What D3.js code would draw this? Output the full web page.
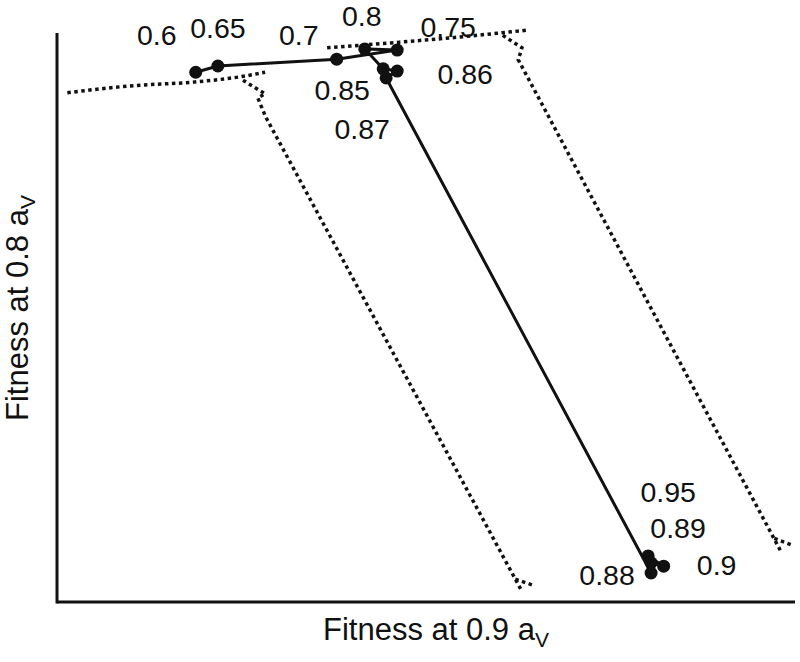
<!DOCTYPE html>
<html>
<head>
<meta charset="utf-8">
<script src="https://cdn.jsdelivr.net/npm/d3@7"></script>
<style>
  body { margin: 0; background: #fff; }
  text { font-family: "Liberation Sans", Arial, sans-serif; fill: #111; }
</style>
</head>
<body>
<div id="chart"></div>
<script>
// parameter labels along the trajectory (plot order)
const params = ["0.6", "0.65", "0.7", "0.75", "0.8", "0.85", "0.86", "0.87", "0.88", "0.89", "0.9", "0.95"];
// fitness at 0.9 aV (x) and at 0.8 aV (y), relative units
const fitX = [0.188, 0.218, 0.379, 0.461, 0.417, 0.442, 0.461, 0.446, 0.805, 0.805, 0.822, 0.801];
const fitY = [0.931, 0.942, 0.954, 0.970, 0.972, 0.937, 0.933, 0.921, 0.051, 0.069, 0.063, 0.081];

// dotted contour lines (x, y pairs in the same units)
const contourA = [[0.014, 0.895], [0.099, 0.907], [0.187, 0.914], [0.248, 0.923], [0.282, 0.931]];
const contourABranch = [[0.252, 0.917], [0.282, 0.893], [0.272, 0.886], [0.283, 0.852], [0.629, 0.021]];
const contourAStub = [[0.621, 0.040], [0.644, 0.030]];
const contourB = [[0.366, 0.974], [0.465, 0.984], [0.546, 0.993], [0.600, 1.0], [0.637, 1.005]];
const contourBBranch = [[0.604, 0.996], [0.630, 0.974], [0.625, 0.953], [0.980, 0.091]];
const contourBStub = [[0.972, 0.112], [0.996, 0.100]];

const width = 800, height = 662;
const margin = { top: 33, right: 5, bottom: 60, left: 57 };

const svg = d3.select("#chart").append("svg")
    .attr("width", width)
    .attr("height", height);

const x = d3.scaleLinear().domain([0, 1]).range([margin.left, width - margin.right]);
const y = d3.scaleLinear().domain([0, 1]).range([height - margin.bottom, margin.top]);

// axes: plain lines, no ticks
svg.append("line")
    .attr("x1", x(0)).attr("x2", x(1))
    .attr("y1", y(0)).attr("y2", y(0))
    .attr("stroke", "#111").attr("stroke-width", 3);
svg.append("line")
    .attr("x1", x(0)).attr("x2", x(0))
    .attr("y1", y(0) + 1.5).attr("y2", y(1))
    .attr("stroke", "#111").attr("stroke-width", 3);

// Contours
const line = d3.line().x(d => x(d[0])).y(d => y(d[1])).curve(d3.curveMonotoneX);
const straight = d3.line().x(d => x(d[0])).y(d => y(d[1]));

[contourA, contourB].forEach(c => {
    svg.append("path").attr("d", line(c))
        .attr("fill", "none").attr("stroke", "#111")
        .attr("stroke-width", 3.5).attr("stroke-dasharray", "3.5,3.5");
});
[contourABranch, contourAStub, contourBBranch, contourBStub].forEach(c => {
    svg.append("path").attr("d", straight(c))
        .attr("fill", "none").attr("stroke", "#111")
        .attr("stroke-width", 3.5).attr("stroke-dasharray", "3.5,3.5");
});

// Trajectory
const pts = params.map((p, i) => ({ p, fx: fitX[i], fy: fitY[i] }));

svg.append("path")
    .attr("d", d3.line().x(d => x(d.fx)).y(d => y(d.fy))(pts))
    .attr("fill", "none")
    .attr("stroke", "#111")
    .attr("stroke-width", 3);

svg.selectAll("circle.pt").data(pts).join("circle")
    .attr("class", "pt")
    .attr("cx", d => x(d.fx))
    .attr("cy", d => y(d.fy))
    .attr("r", 6.5)
    .attr("fill", "#111");

// label offsets from each point (px)
const labelOffsets = {
    "0.6": [-39, -27], "0.65": [0, -28], "0.7": [-38, -14], "0.75": [51, -13],
    "0.8": [-3, -23], "0.85": [-41, 31], "0.86": [68, 13], "0.87": [-24, 61],
    "0.88": [-44, 12], "0.89": [27, -25], "0.9": [53, 9], "0.95": [20, -54]
};

svg.selectAll("text.lbl").data(pts).join("text")
    .attr("class", "lbl")
    .attr("x", d => x(d.fx) + labelOffsets[d.p][0])
    .attr("y", d => y(d.fy) + labelOffsets[d.p][1])
    .attr("text-anchor", "middle")
    .attr("font-size", "28.5px")
    .text(d => d.p);

// Axis titles
const xt = svg.append("text")
    .attr("x", 436)
    .attr("y", 640)
    .attr("text-anchor", "middle")
    .attr("font-size", "31px");
xt.append("tspan").text("Fitness at 0.9 a");
xt.append("tspan").attr("font-size", "21px").attr("dy", 7).text("V");

const yt = svg.append("text")
    .attr("transform", "translate(28, 308) rotate(-90)")
    .attr("text-anchor", "middle")
    .attr("font-size", "31px");
yt.append("tspan").text("Fitness at 0.8 a");
yt.append("tspan").attr("font-size", "21px").attr("dy", 7).text("V");
</script>
</body>
</html>
